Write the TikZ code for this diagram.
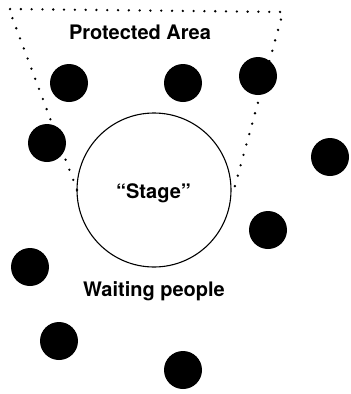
\documentclass[tikz,border=0pt]{standalone}
\usepackage{fontspec}
\setmainfont{TeX Gyre Heros}
\usetikzlibrary{positioning}

\begin{document}
\begin{tikzpicture}[x=1pt, y=-1pt,
  person/.style={circle, fill=black, minimum size=38pt, inner sep=0pt},
  stagering/.style={circle, draw=black, line width=1.1pt, minimum size=154pt, inner sep=0pt},
  caption/.style={font=\fontsize{20}{24}\selectfont\bfseries, anchor=base, inner sep=0pt},
  fence/.style={line width=2.6pt, line cap=round, dash pattern=on 0pt off 10.8pt}]
  \useasboundingbox (0,0) rectangle (351,394);

  % Stage in the middle
  \node[stagering] (stage) at (154,190) {};
  \node[caption] (stagetxt) at (153.5,198) {``Stage''};

  % Dotted boundary of the protected area
  \coordinate (fenceL) at (77,190);
  \coordinate (cornerL) at (9,9);
  \coordinate (cornerR) at (283,12);
  \coordinate (fenceR) at (233,193);
  \draw[fence] (fenceL) -- (cornerL) -- (cornerR) -- (fenceR);
  \node[caption] (protected) at (140,39.3) {Protected Area};

  % People around the stage
  \foreach \name/\x/\y in {p1/69/83, p2/183/83, p3/258/76, p4/47/143, p5/330/157,
                           p6/268/230, p7/30/267, p8/59/341, p9/183/370}
    \node[person] (\name) at (\x,\y) {};
  \node[caption] (waiting) at (154,296) {Waiting people};
\end{tikzpicture}
\end{document}
